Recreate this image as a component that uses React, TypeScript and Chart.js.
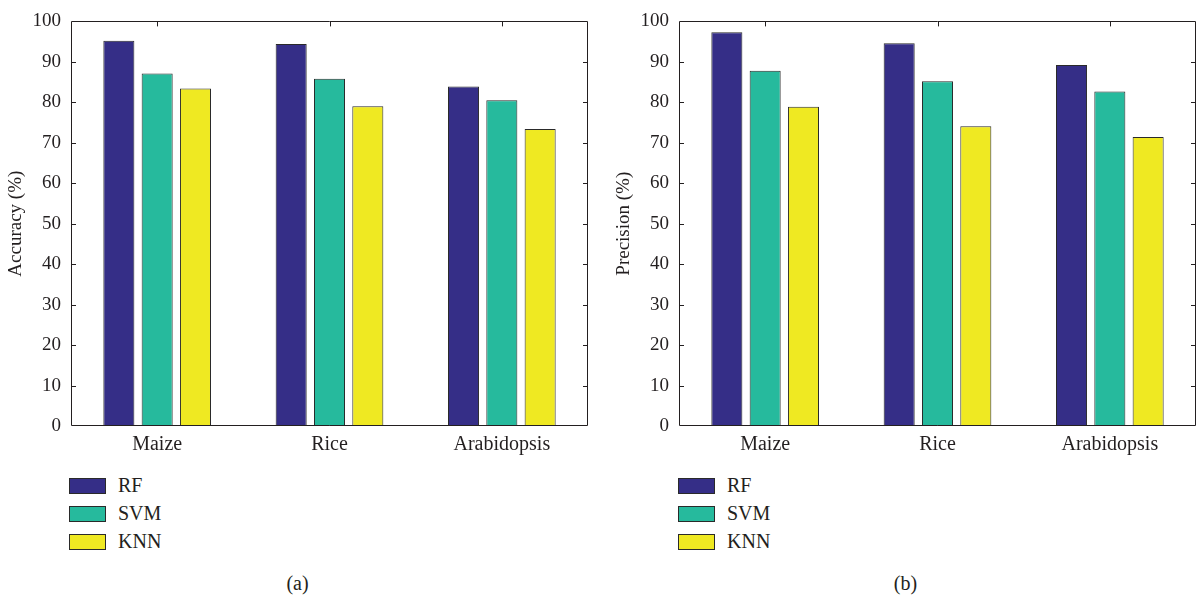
import React, { useEffect, useRef } from "react";
import { Chart, registerables } from "chart.js";

Chart.register(...registerables);

const categories = ["Maize", "Rice", "Arabidopsis"];
const seriesNames = ["RF", "SVM", "KNN"];
const accuracyRF = [95.2, 94.4, 83.9];
const accuracySVM = [87.1, 85.8, 80.5];
const accuracyKNN = [83.4, 79.0, 73.4];
const precisionRF = [97.3, 94.6, 89.2];
const precisionSVM = [87.8, 85.2, 82.7];
const precisionKNN = [78.9, 74.1, 71.4];
const yTickValues = [0, 10, 20, 30, 40, 50, 60, 70, 80, 90, 100];
const seriesColors = ["#352e87", "#26ba9d", "#efe922"];

const FONT = '"Liberation Serif", "Times New Roman", serif';
const INK = "#231f20";

const framePlugin = {
  id: "frameTicks",
  afterDatasetsDraw(chart: any) {
    const { ctx, chartArea, scales } = chart;
    const { left, right, top, bottom } = chartArea;
    ctx.save();
    ctx.strokeStyle = INK;
    ctx.lineWidth = 1;
    ctx.beginPath();
    ctx.rect(Math.round(left) + 0.5, Math.round(top) + 0.5, Math.round(right - left) - 1, Math.round(bottom - top) - 1);
    ctx.stroke();
    const tl = 5;
    ctx.beginPath();
    yTickValues.forEach((v) => {
      if (v === yTickValues[0] || v === yTickValues[yTickValues.length - 1]) return;
      const y = Math.round(scales.y.getPixelForValue(v)) + 0.5;
      ctx.moveTo(left, y);
      ctx.lineTo(left + tl, y);
      ctx.moveTo(right - tl, y);
      ctx.lineTo(right, y);
    });
    categories.forEach((_, i) => {
      const x = Math.round(scales.x.getPixelForValue(i)) + 0.5;
      ctx.moveTo(x, top);
      ctx.lineTo(x, top + tl);
    });
    ctx.stroke();
    ctx.restore();
  },
};

function BarPanel(props: { title: string; rf: number[]; svm: number[]; knn: number[]; width: number; padRight: number }) {
  const ref = useRef<HTMLCanvasElement>(null);
  useEffect(() => {
    if (!ref.current) return;
    const values = [props.rf, props.svm, props.knn];
    const chart = new Chart(ref.current, {
      type: "bar",
      data: {
        labels: categories,
        datasets: seriesNames.map((name, i) => ({
          label: name,
          data: values[i],
          backgroundColor: seriesColors[i],
          borderColor: "#2a2a2a",
          borderWidth: 1,
          barPercentage: 0.81,
          categoryPercentage: 0.667,
        })),
      },
      options: {
        responsive: false,
        animation: false,
        devicePixelRatio: 1,
        layout: { padding: { top: 18, right: props.padRight, left: 0, bottom: 0 } },
        plugins: { legend: { display: false }, tooltip: { enabled: false } },
        scales: {
          x: {
            type: "category",
            grid: { display: false, drawTicks: false },
            border: { display: false },
            ticks: { color: INK, font: { family: FONT, size: 20 }, padding: 7, maxRotation: 0 },
            afterFit: (s: any) => {
              s.height = 34;
            },
          },
          y: {
            min: yTickValues[0],
            max: yTickValues[yTickValues.length - 1],
            grid: { display: false, drawTicks: false },
            border: { display: false },
            ticks: { stepSize: 10, color: INK, font: { family: FONT, size: 19 }, padding: 10 },
            title: {
              display: true,
              text: props.title,
              color: INK,
              font: { family: FONT, size: 19 },
              padding: { top: 5, bottom: 0 },
            },
            afterFit: (s: any) => {
              s.width = 71;
            },
          },
        },
      },
      plugins: [framePlugin],
    });
    return () => chart.destroy();
  }, []);
  return <canvas ref={ref} width={props.width} height={460} style={{ position: "absolute", left: 0, top: 0 }} />;
}

function Legend(props: { left: number }) {
  return (
    <>
      {seriesNames.map((name, i) => (
        <React.Fragment key={name}>
          <div
            style={{
              position: "absolute",
              left: props.left,
              top: 478 + i * 28,
              width: 37,
              height: 16,
              boxSizing: "border-box",
              border: "1px solid #2a2a2a",
              background: seriesColors[i],
            }}
          />
          <div
            style={{
              position: "absolute",
              left: props.left + 49,
              top: 473 + i * 28,
              height: 24,
              lineHeight: "24px",
              fontFamily: FONT,
              fontSize: 20,
              color: INK,
              whiteSpace: "nowrap",
            }}
          >
            {name}
          </div>
        </React.Fragment>
      ))}
    </>
  );
}

export default function App() {
  return (
    <div style={{ position: "absolute", left: 0, top: 0, width: 1202, height: 597, overflow: "hidden", background: "#fff" }}>
      <div style={{ position: "absolute", left: 0, top: 0, width: 600, height: 597 }}>
        <BarPanel title="Accuracy (%)" rf={accuracyRF} svm={accuracySVM} knn={accuracyKNN} width={600} padRight={12} />
        <Legend left={69} />
        <div style={{ position: "absolute", left: 0, width: 595, top: 571, height: 24, lineHeight: "24px", textAlign: "center", fontFamily: FONT, fontSize: 20, color: INK }}>
          (a)
        </div>
      </div>
      <div style={{ position: "absolute", left: 608, top: 0, width: 594, height: 597 }}>
        <BarPanel title="Precision (%)" rf={precisionRF} svm={precisionSVM} knn={precisionKNN} width={594} padRight={6} />
        <Legend left={70} />
        <div style={{ position: "absolute", left: 0, width: 595, top: 571, height: 24, lineHeight: "24px", textAlign: "center", fontFamily: FONT, fontSize: 20, color: INK }}>
          (b)
        </div>
      </div>
    </div>
  );
}
